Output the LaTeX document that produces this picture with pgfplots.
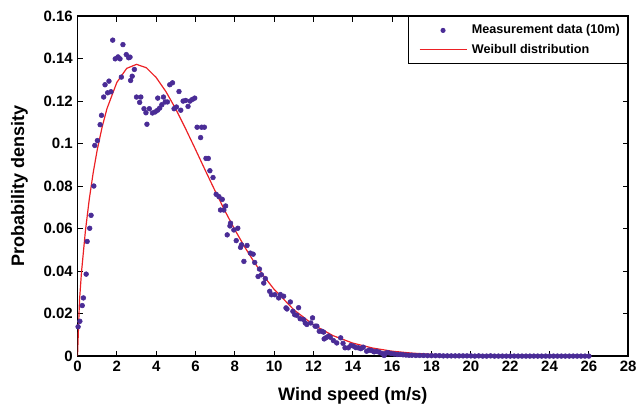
\documentclass[border=0pt]{standalone}
\usepackage{fontspec}
\setmainfont{Liberation Sans}
\usepackage{pgfplots}
\pgfplotsset{compat=1.18}
\definecolor{dotc}{RGB}{74,44,150}
\definecolor{fitc}{RGB}{236,32,36}
\pgfplotsset{
    dotleg/.style={legend image code/.code={\path (-0.15cm,0cm) (1.3cm,0cm);
        \draw[##1, mark size=1.5pt] plot coordinates {(0.62cm,0cm)};}},
    lineleg/.style={legend image code/.code={\path (-0.15cm,0cm);
        \draw[##1, fitc, line width=0.9pt] (0cm,0cm) -- (1.25cm,0cm);}},
}

\begin{document}
\begin{tikzpicture}
\begin{axis}[
    scale only axis,
    width=415pt, height=256pt,
    xmin=0, xmax=28, ymin=0, ymax=0.16,
    xtick={0,2,4,6,8,10,12,14,16,18,20,22,24,26,28},
    ytick={0,0.02,0.04,0.06,0.08,0.1,0.12,0.14,0.16},
    scaled y ticks=false,
    yticklabel style={/pgf/number format/fixed, /pgf/number format/precision=2},
    /pgf/number format/assume math mode=true,
    tick label style={font=\fontsize{11.3}{13}\selectfont\bfseries},
    tick align=inside,
    major tick length=4pt,
    tick style={black, line width=0.8pt},
    axis line style={line width=1.4pt},
    xlabel={Wind speed (m/s)},
    ylabel={Probability density},
    label style={font=\fontsize{13.6}{16}\selectfont\bfseries},
    xlabel style={yshift=-5pt},
    ylabel style={yshift=5pt},
    legend style={at={(1,1)}, anchor=north east, font=\fontsize{9.5}{11.5}\selectfont\bfseries,
        draw=black, line width=0.8pt, cells={anchor=west}, inner sep=4pt,
        row sep=2pt},
    legend cell align=left,
]

% measured histogram density
\addplot[only marks, mark=*, mark size=1.8pt, dotc, mark options={draw=dotc, fill=dotc}, dotleg] coordinates {
(0.03,0.0138) (0.12,0.0164) (0.24,0.0238) (0.30,0.0274) (0.44,0.0386)
(0.49,0.0540) (0.62,0.0602) (0.69,0.0663) (0.83,0.0801) (0.88,0.0992)
(1.01,0.1015) (1.15,0.1090) (1.22,0.1134) (1.33,0.1220) (1.40,0.1278)
(1.53,0.1240) (1.60,0.1295) (1.70,0.1245) (1.79,0.1488) (1.92,0.1400)
(2.06,0.1409) (2.16,0.1400) (2.23,0.1314) (2.31,0.1467) (2.48,0.1420)
(2.60,0.1405) (2.67,0.1408) (2.70,0.1298) (2.78,0.1318) (2.89,0.1350)
(3.00,0.1220) (3.16,0.1195) (3.22,0.1220) (3.38,0.1165) (3.48,0.1146)
(3.53,0.1092) (3.65,0.1165) (3.81,0.1145) (3.95,0.1150) (4.07,0.1158)
(4.08,0.1215) (4.18,0.1168) (4.29,0.1184) (4.37,0.1220) (4.46,0.1197)
(4.57,0.1197) (4.69,0.1278) (4.83,0.1287) (4.91,0.1165) (5.03,0.1173)
(5.16,0.1246) (5.25,0.1158) (5.37,0.1201) (5.50,0.1204) (5.62,0.1176)
(5.72,0.1201) (5.84,0.1209) (5.96,0.1215) (6.08,0.1078) (6.26,0.1029)
(6.31,0.1078) (6.45,0.1078) (6.53,0.0931) (6.65,0.0931) (6.73,0.0873)
(6.89,0.0841) (7.05,0.0762) (7.19,0.0751) (7.27,0.0688) (7.36,0.0738)
(7.44,0.0688) (7.53,0.0707) (7.61,0.0571) (7.75,0.0613) (7.78,0.0626)
(7.95,0.0594) (8.07,0.0544) (8.15,0.0602) (8.29,0.0512) (8.34,0.0524)
(8.46,0.0446) (8.62,0.0521) (8.79,0.0485) (8.93,0.0480) (9.01,0.0441)
(9.18,0.0375) (9.25,0.0410) (9.35,0.0383) (9.47,0.0344) (9.55,0.0365)
(9.77,0.0305) (9.86,0.0289) (10.03,0.0289) (10.23,0.0274) (10.31,0.0290)
(10.48,0.0282) (10.60,0.0227) (10.65,0.0222) (10.82,0.0255) (10.95,0.0211)
(11.04,0.0195) (11.15,0.0192) (11.24,0.0228) (11.32,0.0176) (11.49,0.0172)
(11.58,0.0156) (11.66,0.0149) (11.86,0.0156) (11.95,0.0180) (12.08,0.0141)
(12.17,0.0141) (12.29,0.0117) (12.42,0.0117) (12.51,0.0113) (12.54,0.0081)
(12.62,0.0086) (12.76,0.0094) (12.85,0.0089) (13.01,0.0073) (13.18,0.0062)
(13.38,0.0086) (13.50,0.0060) (13.60,0.0039) (13.77,0.0039) (13.90,0.0050)
(14.03,0.0047) (14.15,0.0040) (14.28,0.0039) (14.40,0.0035) (14.53,0.0042)
(14.70,0.0023) (14.82,0.0028) (14.95,0.0026) (15.08,0.0020) (15.21,0.0023)
(15.35,0.0018) (15.50,0.0012) (15.59,0.0003) (15.70,0.0015) (15.80,0.0016)
(15.95,0.0012) (16.10,0.0010) (16.25,0.0008) (16.40,0.0008) (16.55,0.0006)
(16.70,0.0005) (16.85,0.0004) (17.00,0.0004) (17.20,0.0003) (17.40,0.0003)
(17.60,0.0003) (17.80,0.0002) (18.00,0.0002) (18.20,0.0002) (18.40,0.0002)
(18.60,0.0001) (18.80,0.0001) (19.00,0.0001) (19.20,0.0001) (19.40,0.0001)
(19.60,0.0001) (19.80,0.0001) (20.00,0.0001) (20.20,0.0000) (20.40,0.0001)
(20.60,0.0000) (20.80,0.0000) (21.00,0.0001) (21.20,0.0000) (21.40,0.0000)
(21.60,0.0000) (21.80,0.0000) (22.00,0.0000) (22.20,0.0000) (22.40,0.0000)
(22.60,0.0000) (22.80,0.0000) (23.00,0.0000) (23.20,0.0000) (23.40,0.0000)
(23.60,0.0000) (23.80,0.0000) (24.00,0.0000) (24.20,0.0000) (24.40,0.0000)
(24.60,0.0000) (24.80,0.0000) (25.00,0.0000) (25.20,0.0000) (25.40,0.0000)
(25.60,0.0000) (25.80,0.0000) (26.00,0.0000)
};
\addlegendentry{Measurement data (10m)}

% fitted Weibull pdf
\addplot[fitc, line width=0.9pt, lineleg] coordinates {
(0,0) (0.1,0.0259) (0.2,0.0392) (0.4,0.0588) (0.6,0.0740) (0.8,0.0865)
(1.0,0.0970) (1.25,0.1078) (1.5,0.1166) (2.0,0.1289) (2.5,0.1355)
(3.0,0.1374) (3.5,0.1358) (4.0,0.1312) (4.5,0.1245) (5.0,0.1163)
(5.5,0.1070) (6.0,0.0973) (6.5,0.0874) (7.0,0.0777) (7.5,0.0683)
(8.0,0.0595) (8.5,0.0514) (9.0,0.0440) (9.5,0.0373) (10.0,0.0314)
(11.0,0.0218) (12.0,0.0147) (13.0,0.0096) (14.0,0.0061) (15.0,0.0038)
(16.0,0.0023) (17.0,0.0014) (18.0,0.0008) (19.0,0.0005) (20.0,0.0003)
(22.0,0.0001) (24.0,0.0000) (26.0,0.0000)
};
\addlegendentry{Weibull distribution}

\end{axis}
% white margin left of the y label and above the top tick label
\path ([shift={(-5pt,5pt)}]current axis.outer north west);
\end{tikzpicture}
\end{document}
